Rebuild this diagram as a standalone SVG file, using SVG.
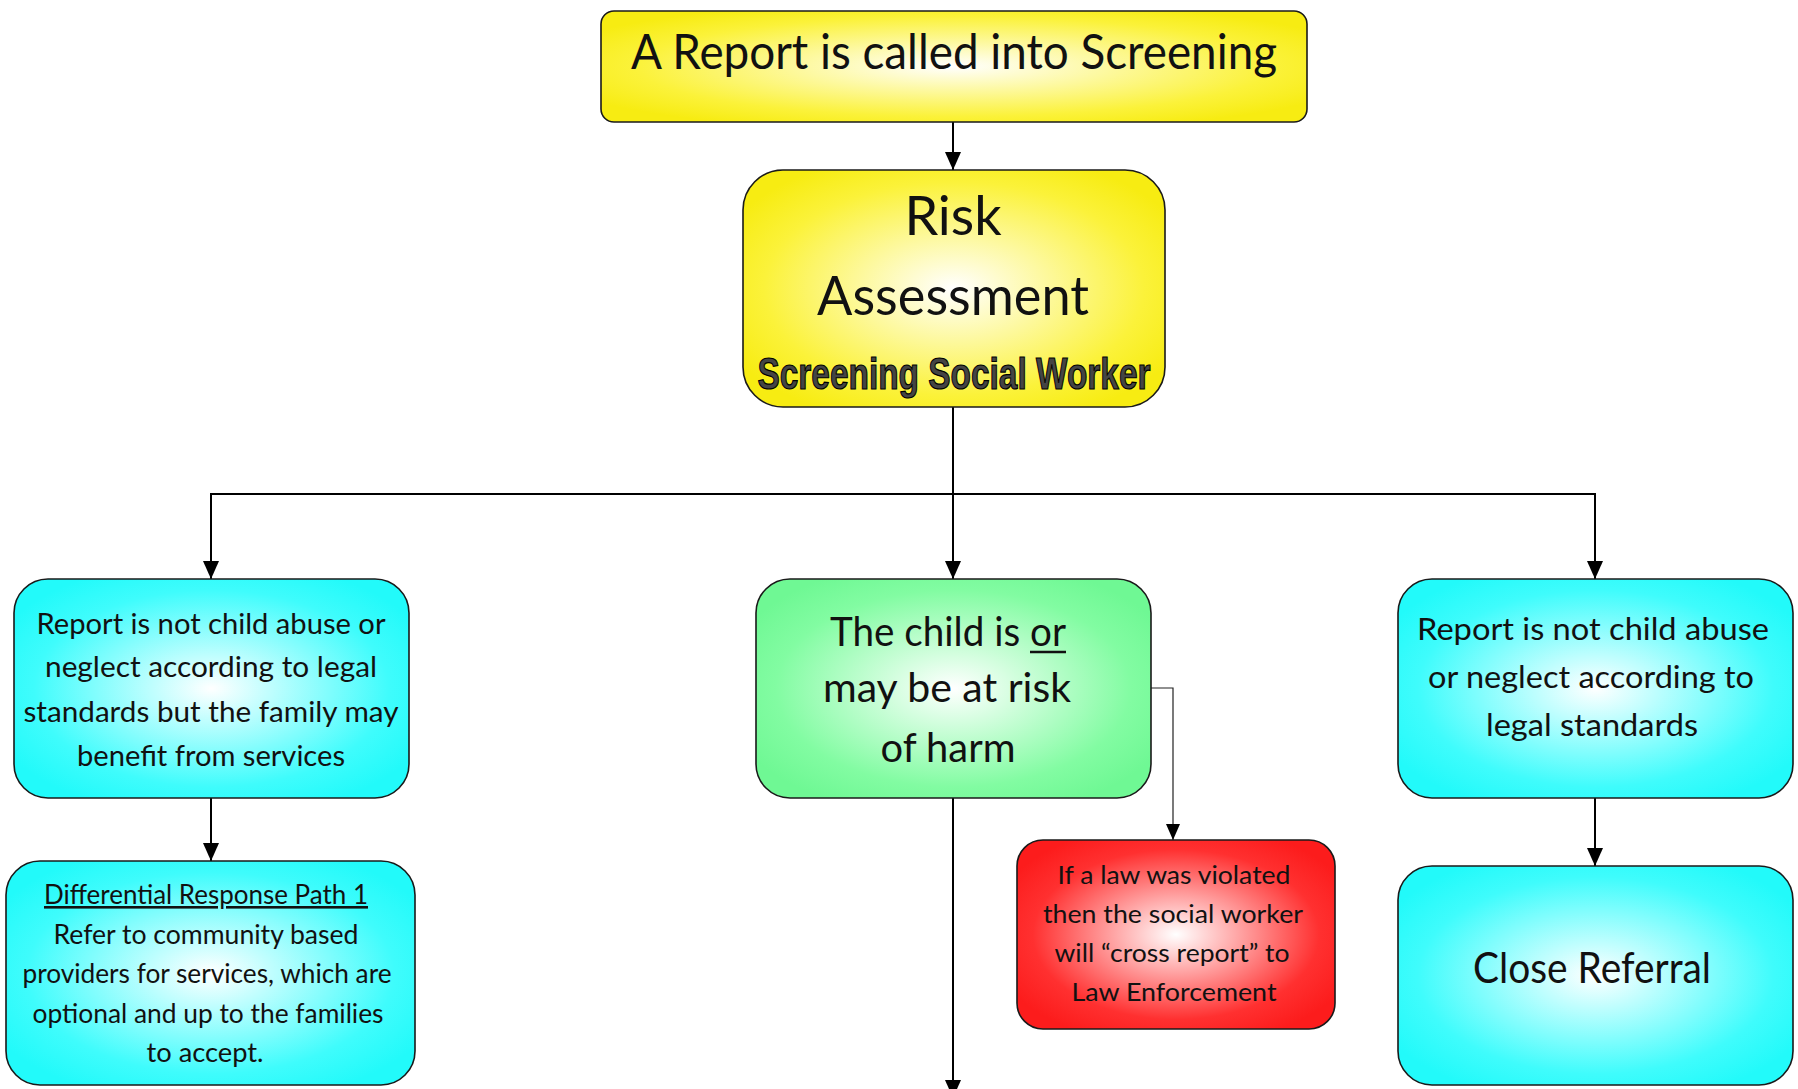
<svg xmlns="http://www.w3.org/2000/svg" width="1798" height="1089" viewBox="0 0 1798 1089">
<defs>
<radialGradient id="gY" cx="50%" cy="50%" r="60%"><stop offset="0" stop-color="#ffffff"/><stop offset="0.75" stop-color="#fbf23a"/><stop offset="1" stop-color="#f7ec12"/></radialGradient>
<radialGradient id="gC" cx="50%" cy="50%" r="60%"><stop offset="0" stop-color="#ffffff"/><stop offset="0.75" stop-color="#3ffcfc"/><stop offset="1" stop-color="#22fafa"/></radialGradient>
<radialGradient id="gG" cx="50%" cy="50%" r="60%"><stop offset="0" stop-color="#ffffff"/><stop offset="0.75" stop-color="#82fca2"/><stop offset="1" stop-color="#6ff894"/></radialGradient>
<radialGradient id="gR" cx="50%" cy="50%" r="60%"><stop offset="0" stop-color="#ffffff"/><stop offset="0.75" stop-color="#ff3030"/><stop offset="1" stop-color="#fc1c1c"/></radialGradient>
<marker id="arr" markerUnits="userSpaceOnUse" markerWidth="18" markerHeight="16" refX="18" refY="8" orient="auto-start-reverse" viewBox="0 0 18 16"><path d="M0,0 L18,8 L0,16 Z" fill="#000"/></marker>
<marker id="arrS" markerUnits="userSpaceOnUse" markerWidth="16" markerHeight="14" refX="16" refY="7" orient="auto" viewBox="0 0 16 14"><path d="M0,0 L16,7 L0,14 Z" fill="#000"/></marker>
</defs>
<style>
.box{stroke:#1a1a1a;stroke-width:1.6}
.t{font-family:Lato,"Liberation Sans",sans-serif;fill:#111;text-anchor:middle}
.ln{fill:none;stroke:#000;stroke-width:2}
.thin{fill:none;stroke:#222;stroke-width:1.2}
</style>
<rect width="1798" height="1089" fill="#fff"/>
<g id="connectors">
<line class="ln" x1="953" y1="122" x2="953" y2="170" marker-end="url(#arr)"/>
<polyline class="ln" points="953,407 953,494"/>
<polyline class="ln" points="211,579 211,494 1595,494 1595,579" marker-start="url(#arr)" marker-end="url(#arr)"/>
<line class="ln" x1="953" y1="494" x2="953" y2="579" marker-end="url(#arr)"/>
<line class="ln" x1="211" y1="798" x2="211" y2="861" marker-end="url(#arr)"/>
<line class="ln" x1="1595" y1="798" x2="1595" y2="866" marker-end="url(#arr)"/>
<polyline class="thin" points="1151,688 1173,688 1173,840" marker-end="url(#arrS)"/>
<line class="ln" x1="953" y1="798" x2="953" y2="1098" marker-end="url(#arr)"/>
</g>
<g id="n-report">
<rect class="box" x="601" y="11" width="706" height="111" rx="13" fill="url(#gY)"/>
<text class="t" x="954" y="69" font-size="48" textLength="646" lengthAdjust="spacingAndGlyphs">A Report is called into Screening</text>
</g>
<g id="n-risk">
<rect class="box" x="743" y="170" width="422" height="237" rx="40" fill="url(#gY)"/>
<text class="t" x="953" y="235" font-size="54">Risk</text>
<text class="t" x="953" y="315" font-size="54" textLength="272" lengthAdjust="spacingAndGlyphs">Assessment</text>
<text class="t" x="954" y="389" font-size="44" font-weight="bold" style="font-family:'Liberation Sans',sans-serif;fill:#444;stroke:#000;stroke-width:1.2" textLength="393" lengthAdjust="spacingAndGlyphs">Screening Social Worker</text>
</g>
<g id="n-left1">
<rect class="box" x="14" y="579" width="395" height="219" rx="34" fill="url(#gC)"/>
<text class="t" x="211" y="634" font-size="28" textLength="349" lengthAdjust="spacingAndGlyphs">Report is not child abuse or</text>
<text class="t" x="211" y="677" font-size="28" textLength="332" lengthAdjust="spacingAndGlyphs">neglect according to legal</text>
<text class="t" x="211" y="722" font-size="28" textLength="375" lengthAdjust="spacingAndGlyphs">standards but the family may</text>
<text class="t" x="211" y="766" font-size="28" textLength="268" lengthAdjust="spacingAndGlyphs">benefit from services</text>
</g>
<g id="n-left2">
<rect class="box" x="6" y="861" width="409" height="224" rx="34" fill="url(#gC)"/>
<text class="t" x="206" y="904" font-size="26" text-decoration="underline" textLength="324" lengthAdjust="spacingAndGlyphs">Differential Response Path 1</text>
<text class="t" x="206" y="944" font-size="26" textLength="305" lengthAdjust="spacingAndGlyphs">Refer to community based</text>
<text class="t" x="207" y="983" font-size="26" textLength="369" lengthAdjust="spacingAndGlyphs">providers for services, which are</text>
<text class="t" x="208" y="1023" font-size="26" textLength="351" lengthAdjust="spacingAndGlyphs">optional and up to the families</text>
<text class="t" x="205" y="1062" font-size="26" textLength="117" lengthAdjust="spacingAndGlyphs">to accept.</text>
</g>
<g id="n-harm">
<rect class="box" x="756" y="579" width="395" height="219" rx="34" fill="url(#gG)"/>
<text class="t" x="948" y="646" font-size="40" textLength="236" lengthAdjust="spacingAndGlyphs">The child is or</text>
<line x1="1030" y1="652" x2="1066" y2="652" stroke="#111" stroke-width="2.4"/>
<text class="t" x="947" y="702" font-size="40" textLength="248" lengthAdjust="spacingAndGlyphs">may be  at risk</text>
<text class="t" x="948" y="762" font-size="40" textLength="135" lengthAdjust="spacingAndGlyphs">of harm</text>
</g>
<g id="n-law">
<rect class="box" x="1017" y="840" width="318" height="189" rx="26" fill="url(#gR)"/>
<text class="t" x="1174" y="884" font-size="25" textLength="233" lengthAdjust="spacingAndGlyphs">If a law was violated</text>
<text class="t" x="1173" y="923" font-size="25" textLength="260" lengthAdjust="spacingAndGlyphs">then the social worker</text>
<text class="t" x="1172" y="962" font-size="25" textLength="235" lengthAdjust="spacingAndGlyphs">will “cross report” to</text>
<text class="t" x="1174" y="1001" font-size="25" textLength="205" lengthAdjust="spacingAndGlyphs">Law Enforcement</text>
</g>
<g id="n-right1">
<rect class="box" x="1398" y="579" width="395" height="219" rx="34" fill="url(#gC)"/>
<text class="t" x="1593" y="640" font-size="30" textLength="352" lengthAdjust="spacingAndGlyphs">Report is not child abuse</text>
<text class="t" x="1591" y="688" font-size="30" textLength="326" lengthAdjust="spacingAndGlyphs">or neglect according to</text>
<text class="t" x="1592" y="736" font-size="30" textLength="212" lengthAdjust="spacingAndGlyphs">legal standards</text>
</g>
<g id="n-close">
<rect class="box" x="1398" y="866" width="395" height="219" rx="34" fill="url(#gC)"/>
<text class="t" x="1592" y="983" font-size="42" textLength="238" lengthAdjust="spacingAndGlyphs">Close Referral</text>
</g>
</svg>
